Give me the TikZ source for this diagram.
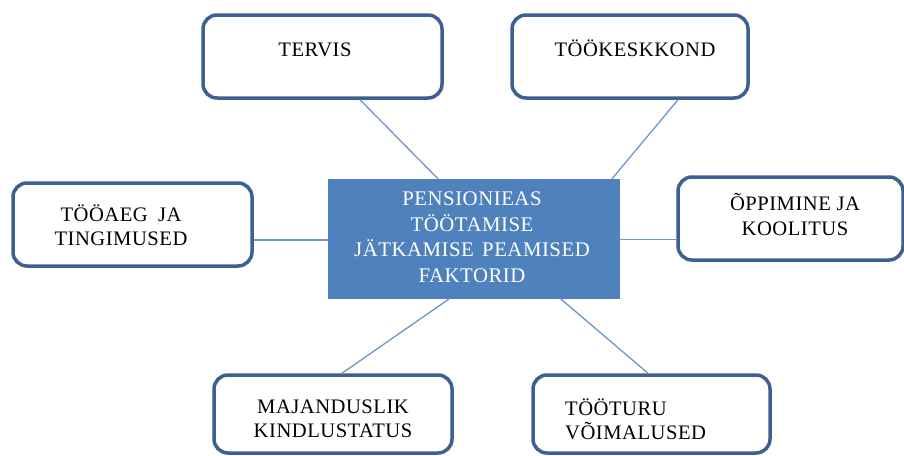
\documentclass[tikz,border=0pt]{standalone}
\usepackage{fontspec}
\setmainfont[LetterSpace=2.5]{Liberation Serif}
\definecolor{boxborder}{HTML}{3C6091}
\definecolor{ctrfill}{HTML}{4F81BD}
\definecolor{connclr}{HTML}{6B96CC}
\tikzset{
  box/.style={draw=boxborder, line width=3.5pt, rounded corners=14pt, fill=white, rectangle, inner sep=0pt},
  ctrbox/.style={fill=ctrfill, draw=ctrfill, line width=0.5pt, rectangle, inner sep=0pt},
  lbl/.style={font=\fontsize{20.6}{24.5}\selectfont, inner sep=0pt, text=black},
  conn/.style={draw=connclr, line width=1.3pt},
}
\begin{document}
\begin{tikzpicture}[x=1pt, y=-1pt]
\useasboundingbox (0,0) rectangle (904,455);
% boxes
\node[box, minimum width=239pt, minimum height=83pt] (tervis) at (322.5,56.5) {};
\node[box, minimum width=236pt, minimum height=83pt] (tkk) at (630,56.5) {};
\node[box, minimum width=239pt, minimum height=83pt] (taeg) at (132.5,224.5) {};
\node[box, minimum width=225pt, minimum height=83pt] (opp) at (790.5,218.5) {};
\node[box, minimum width=238pt, minimum height=78pt] (maj) at (333,414) {};
\node[box, minimum width=237pt, minimum height=78pt] (tt) at (651.5,414) {};
\node[ctrbox, minimum width=291pt, minimum height=119pt] (ctr) at (473.5,238.5) {};
% connectors
\draw[conn] ([xshift=37.5pt]tervis.south) -- ([xshift=-35.5pt]ctr.north);
\draw[conn] ([xshift=48pt]tkk.south) -- ([xshift=138.5pt]ctr.north);
\draw[conn] ([yshift=-1.5pt]ctr.west) -- ([yshift=-1.5pt]ctr.west -| taeg.east);
\draw[conn] ([yshift=-1pt]ctr.east) -- ([yshift=-1pt]ctr.east -| opp.west);
\draw[conn] ([xshift=-23.5pt]ctr.south) -- ([xshift=9pt]maj.north);
\draw[conn] ([xshift=86.5pt]ctr.south) -- ([xshift=-3.5pt]tt.north);
% texts
\node[lbl] (t1) at (315,49.5) {TERVIS};
\node[lbl] (t2) at (635,48) {TÖÖKESKKOND};
\node[lbl, align=center, text=white, font=\fontsize{20.8}{25.5}\selectfont] (t0) at (472,237) {PENSIONIEAS\\TÖÖTAMISE\\JÄTKAMISE\hspace{0.4em}PEAMISED\\FAKTORID};
\node[lbl, align=center] (t3) at (121,225.5) {TÖÖAEG\hspace{0.5em}JA\\TINGIMUSED};
\node[lbl, align=center] (t4) at (795,214.5) {ÕPPIMINE JA\\KOOLITUS};
\node[lbl, align=center] (t5) at (333,419) {MAJANDUSLIK\\KINDLUSTATUS};
\node[lbl, align=left, anchor=west] (t6) at (565,419.5) {TÖÖTURU\\VÕIMALUSED};
\end{tikzpicture}
\end{document}
